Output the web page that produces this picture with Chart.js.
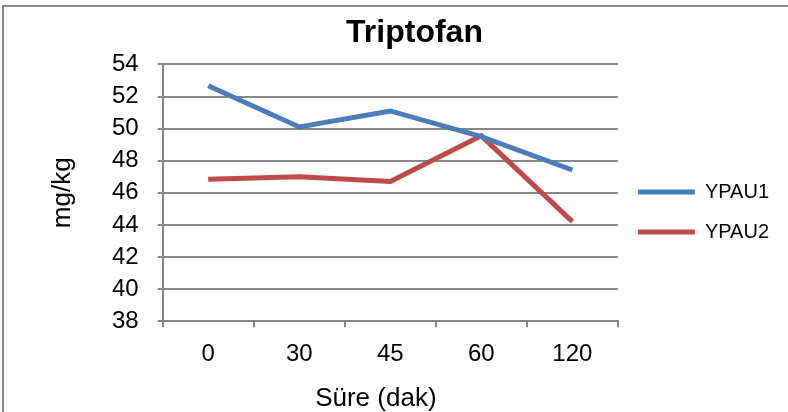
<!DOCTYPE html>
<html>
<head>
<meta charset="utf-8">
<script src="https://cdn.jsdelivr.net/npm/chart.js@4"></script>
<style>
	html, body { margin: 0; padding: 0; background: #fff; overflow: hidden; }
	#wrap { position: relative; width: 788px; height: 412px; }
	#frame { position: absolute; left: 2px; top: 5px; width: 800px; height: 420px; border: 2px solid #898989; box-sizing: border-box; }
	canvas { position: absolute; left: 0; top: 0; }
</style>
</head>
<body>
<div id="wrap">
	<div id="frame"></div>
	<canvas id="chart" width="788" height="412"></canvas>
</div>
<script>
const categories = ['0', '30', '45', '60', '120']
const ypau1 = [52.67, 50.1, 51.1, 49.5, 47.42]
const ypau2 = [46.85, 47.0, 46.7, 49.55, 44.2]
const yMin = 38
const yMax = 54
const yStep = 2

const gridColor = '#868686'
const font = 'Arial, "Liberation Sans", sans-serif'

const ctx = document.getElementById('chart').getContext('2d')
new Chart(ctx, {
	type: 'line',
	data: {
		labels: categories,
		datasets: [
			{
				label: 'YPAU1',
				data: ypau1,
				borderColor: '#4A7EBB',
				backgroundColor: '#4A7EBB',
				borderWidth: 5,
				pointRadius: 0,
				tension: 0,
			},
			{
				label: 'YPAU2',
				data: ypau2,
				borderColor: '#BE4B48',
				backgroundColor: '#BE4B48',
				borderWidth: 5,
				pointRadius: 0,
				tension: 0,
			},
		],
	},
	options: {
		responsive: false,
		animation: false,
		layout: {
			padding: { left: 50, right: 9, top: 0, bottom: 0 },
		},
		scales: {
			x: {
				offset: true,
				grid: {
					offset: true,
					drawOnChartArea: false,
					color: gridColor,
					lineWidth: 2,
					tickLength: 6,
				},
				border: { color: gridColor, width: 2 },
				ticks: {
					color: '#000',
					font: { family: font, size: 24 },
					padding: 13,
					maxRotation: 0,
					autoSkip: false,
				},
				title: {
					display: true,
					// trailing spaces nudge the centred title left like the original
					text: 'Süre (dak)    ',
					color: '#000',
					font: { family: font, size: 26, lineHeight: 1 },
					padding: { top: 4, bottom: 0 },
				},
			},
			y: {
				min: yMin,
				max: yMax,
				grid: {
					color: gridColor,
					lineWidth: 2,
					tickLength: 5,
				},
				border: { color: gridColor, width: 2 },
				ticks: {
					stepSize: yStep,
					color: '#000',
					font: { family: font, size: 24 },
					padding: 19,
					autoSkip: false,
				},
				title: {
					display: true,
					text: 'mg/kg',
					color: '#000',
					font: { family: font, size: 26, lineHeight: 1 },
					padding: { top: 0, bottom: 17 },
				},
			},
		},
		plugins: {
			title: {
				display: true,
				text: 'Triptofan',
				color: '#000',
				font: { family: font, size: 32, weight: 'bold' },
				padding: { top: 14, bottom: 12 },
			},
			legend: {
				position: 'right',
				title: {
					display: true,
					text: ' ',
					font: { size: 10 },
					padding: 0,
				},
				labels: {
					usePointStyle: true,
					pointStyle: 'line',
					pointStyleWidth: 57,
					color: '#000',
					font: { family: font, size: 20 },
					padding: 20,
				},
			},
			tooltip: { enabled: false },
		},
	},
})
</script>
</body>
</html>
